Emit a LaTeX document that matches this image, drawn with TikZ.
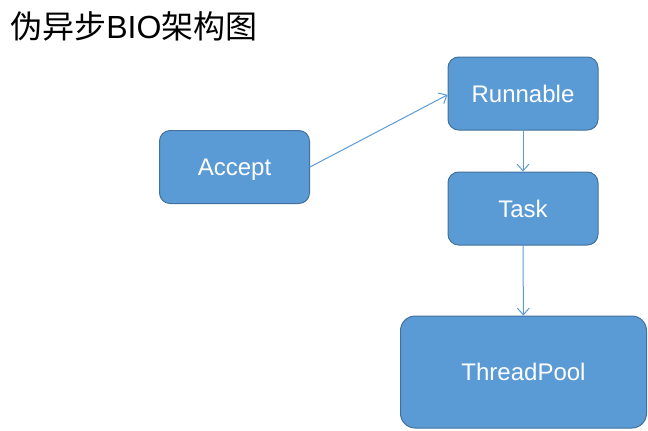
\documentclass[tikz,border=0pt]{standalone}
\usepackage{fontspec}
\setmainfont{Liberation Sans}
\newfontfamily\cjk{Noto Sans CJK SC}
\usepackage{tikz}
\usetikzlibrary{arrows.meta}
\definecolor{boxfill}{HTML}{5B9BD5}
\definecolor{boxline}{HTML}{41719C}

\begin{document}
\begin{tikzpicture}
    [x=0.75pt,y=-0.75pt,line cap=round,line join=round,
     blk/.style={draw=boxline,line width=0.75pt,fill=boxfill,rounded corners=8pt,
        text=white,font=\fontsize{18}{20}\selectfont,text height=12.9pt,text depth=0pt,
        minimum width=112.5pt,minimum height=54.75pt,inner sep=0pt},
     link/.style={draw=boxfill,line width=0.75pt,-{Straight Barb[length=5pt,width=9pt]}}]
%frame
\useasboundingbox (0,0) rectangle (648,430);
%title
\node (title) [anchor=base west,inner sep=0pt,font=\fontsize{24}{28}\selectfont]
    at (10,38) {{\cjk 伪异步}BIO{\cjk 架构图}};
%boxes
 \node[blk] (accept) at (234.5,167) {Accept};
 \node[blk] (runnable) at (523,93.5) {Runnable};
 \node[blk] (task) at (523,208.5) {Task};
 \node[blk,minimum width=184.5pt,minimum height=84pt,rounded corners=11pt] (pool) at (523.5,372) {ThreadPool};
%connectors
 \draw[link] (accept.east) -- ([yshift=-1pt]runnable.west);
  \draw[link] (runnable) -- (task);
   \draw[link] (task) -- (pool);
\end{tikzpicture}
\end{document}
